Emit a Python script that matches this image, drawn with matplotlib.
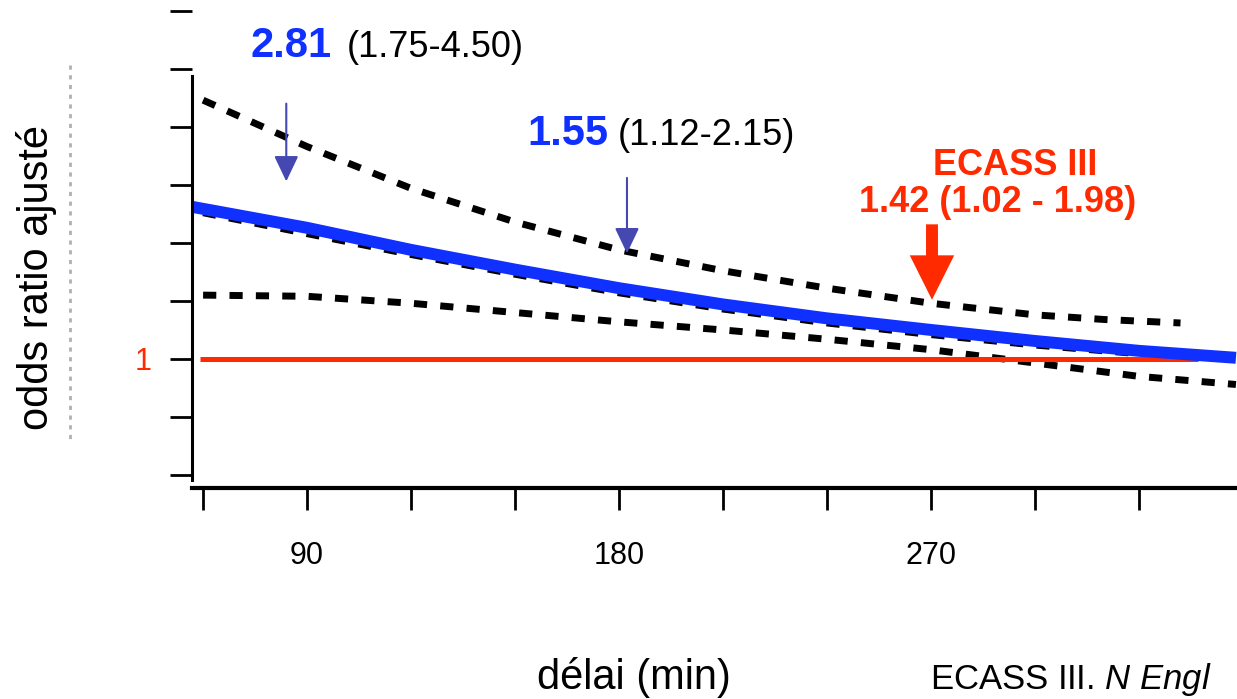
import matplotlib
matplotlib.use("Agg")
import matplotlib.pyplot as plt
from matplotlib.lines import Line2D

plt.rcParams["font.family"] = ["Liberation Sans", "DejaVu Sans"]
plt.rcParams["mathtext.fontset"] = "custom"
plt.rcParams["mathtext.it"] = "Liberation Sans:italic"
plt.rcParams["mathtext.rm"] = "Liberation Sans"

# délai (min) / odds ratio ajusté
est_x = [57, 90, 120, 150, 180, 210, 240, 270, 300, 330, 358]
est_y = [2.31, 2.13, 1.94, 1.77, 1.61, 1.47, 1.35, 1.25, 1.155, 1.07, 1.01]

est_dash_x = [60, 90, 120, 150, 180, 210, 240, 270, 300, 330, 342]
est_dash_y = [2.26, 2.08, 1.90, 1.73, 1.57, 1.43, 1.31, 1.21, 1.12, 1.045, 1.02]

upper_x = [60, 90, 120, 150, 180, 210, 240, 270, 300, 320, 342]
upper_y = [3.23, 2.83, 2.47, 2.18, 1.94, 1.76, 1.61, 1.48, 1.38, 1.34, 1.31]

lower_x = [60, 90, 120, 150, 180, 210, 240, 270, 300, 330, 358]
lower_y = [1.55, 1.54, 1.48, 1.40, 1.32, 1.25, 1.17, 1.08, 0.965, 0.85, 0.78]

ref_x = [59, 347]
ref_y = [1, 1]

xticks = [60, 90, 120, 150, 180, 210, 240, 270, 300, 330]
xticklabels = ["", "90", "", "", "180", "", "", "270", "", ""]
yticks = [0, 0.5, 1, 1.5, 2, 2.5, 3, 3.5, 4]
yticklabels = ["", "", "1", "", "", "", "", "", ""]

# annotated arrows: (x, y start, y tip)
blue_arrows = [(84, 3.20, 2.53), (182.3, 2.56, 1.91)]
red_arrow = (270.3, 2.16, 1.51)

BLUE = "#1030ff"
RED = "#ff2a00"
ARROW_BLUE = "#4448b0"

fig = plt.figure(figsize=(12.37, 6.99), dpi=100)
ax = fig.add_axes([192 / 1237, 219 / 699, 1045 / 1237, 475 / 699])

dash = (0, (1.9, 1.9))
ax.plot(upper_x, upper_y, color="black", lw=5, linestyle=dash)
ax.plot(lower_x, lower_y, color="black", lw=5, linestyle=dash)
ax.plot(est_dash_x, est_dash_y, color="black", lw=5, linestyle=dash)
ax.plot(ref_x, ref_y, color=RED, lw=3.6, solid_capstyle="butt")
ax.plot(est_x, est_y, color=BLUE, lw=8.6, solid_capstyle="butt")

for x, y0, y1 in blue_arrows:
    ax.annotate("", xy=(x, y1), xytext=(x, y0),
                arrowprops=dict(arrowstyle="-|>,head_length=1.05,head_width=0.5",
                                mutation_scale=15, color=ARROW_BLUE, lw=1.5,
                                shrinkA=0, shrinkB=0))
ax.annotate("", xy=(red_arrow[0], red_arrow[2]), xytext=(red_arrow[0], red_arrow[1]),
            arrowprops=dict(arrowstyle="simple,head_length=1.6,head_width=1.6,tail_width=0.43",
                            mutation_scale=20, color=RED, lw=0,
                            shrinkA=0, shrinkB=0))

ax.text(73.6, 3.603, "2.81", color=BLUE, fontsize=30, fontweight="bold", va="baseline")
ax.text(101.5, 3.603, "(1.75-4.50)", color="black", fontsize=26, va="baseline")
ax.text(153.5, 2.845, "1.55", color=BLUE, fontsize=30, fontweight="bold", va="baseline")
ax.text(179.7, 2.845, "(1.12-2.15)", color="black", fontsize=26, va="baseline")
ax.text(294.3, 2.586, "ECASS III", color=RED, fontsize=26, fontweight="bold",
        ha="center", va="baseline")
ax.text(289.1, 2.267, "1.42 (1.02 - 1.98)", color=RED, fontsize=26, fontweight="bold",
        ha="center", va="baseline")

ax.set_xlim(56.8, 358.3)
ax.set_ylim(-0.043, 4.05)

for side in ["top", "right"]:
    ax.spines[side].set_visible(False)
ax.spines["left"].set_bounds(-0.043, 3.44)
ax.spines["left"].set_linewidth(2.2)
ax.spines["bottom"].set_position(("outward", 6))
ax.spines["bottom"].set_linewidth(3)

ax.set_xticks(xticks)
ax.set_xticklabels(xticklabels, fontsize=22)
ax.set_yticks(yticks)
ax.set_yticklabels(yticklabels, fontsize=22)
ax.tick_params(axis="x", direction="out", length=16, width=2, pad=22)
ax.tick_params(axis="y", direction="out", length=16, width=2, pad=13)
for lab in ax.get_yticklabels():
    lab.set_color(RED)

fig.text(37 / 1237, 1 - 278 / 699, "odds ratio ajusté", rotation=90, fontsize=30,
         ha="center", va="center")
fig.text(634 / 1237, 10 / 699, "délai (min)", fontsize=30, ha="center", va="baseline")
fig.text(930 / 1237, 10 / 699, r"ECASS III. $N\ Engl$", fontsize=25, ha="left", va="baseline")

# faint ghost line next to the y label
fig.add_artist(Line2D([70 / 1237, 70 / 1237], [1 - 65 / 699, 1 - 440 / 699],
                      transform=fig.transFigure, color="#b0b0b0", lw=2,
                      linestyle=(0, (1.5, 2))))

fig.savefig("out.png", dpi=100)
